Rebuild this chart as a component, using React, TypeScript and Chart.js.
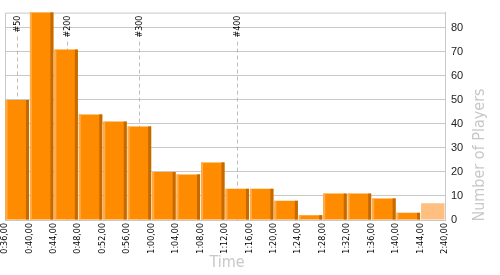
import React, { useEffect, useRef } from "react";
import { Chart, registerables } from "chart.js";

Chart.register(...registerables);

const binLabels = [
  "0:36,00", "0:40,00", "0:44,00", "0:48,00", "0:52,00", "0:56,00",
  "1:00,00", "1:04,00", "1:08,00", "1:12,00", "1:16,00", "1:20,00",
  "1:24,00", "1:28,00", "1:32,00", "1:36,00", "1:40,00", "1:44,00", "2:40,00",
];
const playerCounts = [50, 87, 71, 44, 41, 39, 20, 19, 24, 13, 13, 8, 2, 11, 11, 9, 3, 7];
const rankMarkers = ["#50", "#200", "#300", "#400"];
const rankMarkerBins = [0.5, 2.52, 5.5, 9.51];
const yTicks = [0, 10, 20, 30, 40, 50, 60, 70, 80];
const yMax = 86.4;

const MAIN = "#ff8c00";
const LIGHT_BAR = "#ffbf80";
const HIGHLIGHT = "#ffab4a";
const SHADOW = "#c46a00";

const decorPlugin = {
  id: "decor",
  beforeDatasetsDraw(chart: any) {
    const { ctx, chartArea, scales } = chart;
    const xs = scales.x;
    ctx.save();
    ctx.strokeStyle = "#c8c8c8";
    ctx.lineWidth = 1;
    ctx.beginPath();
    ctx.moveTo(chartArea.left + 0.5, chartArea.bottom);
    ctx.lineTo(chartArea.left + 0.5, chartArea.top + 0.5);
    ctx.lineTo(chartArea.right, chartArea.top + 0.5);
    ctx.stroke();
    ctx.font = "8px 'DejaVu Sans'";
    ctx.fillStyle = "#000";
    rankMarkers.forEach((lab, i) => {
      const px = Math.round(xs.getPixelForValue(rankMarkerBins[i])) + 0.5;
      const textTop = chartArea.top + 3;
      const w = ctx.measureText(lab).width;
      ctx.save();
      ctx.translate(px, textTop);
      ctx.rotate(-Math.PI / 2);
      ctx.textAlign = "right";
      ctx.textBaseline = "middle";
      ctx.fillText(lab, 0, 0);
      ctx.restore();
      ctx.save();
      ctx.strokeStyle = "#bdbdbd";
      ctx.setLineDash([4, 3]);
      ctx.beginPath();
      ctx.moveTo(px, textTop + w + 4);
      ctx.lineTo(px, chartArea.bottom);
      ctx.stroke();
      ctx.restore();
    });
    ctx.restore();
  },
  afterDatasetsDraw(chart: any) {
    const { ctx, chartArea } = chart;
    const meta = chart.getDatasetMeta(0);
    ctx.save();
    ctx.beginPath();
    ctx.rect(chartArea.left, chartArea.top, chartArea.right - chartArea.left, chartArea.bottom - chartArea.top);
    ctx.clip();
    meta.data.forEach((el: any, i: number) => {
      if (i === meta.data.length - 1) return;
      const p = el.getProps(["x", "y", "base", "width"], true);
      const left = p.x - p.width / 2;
      const right = p.x + p.width / 2;
      const top = Math.min(p.y, p.base);
      const h = Math.abs(p.base - p.y);
      ctx.fillStyle = HIGHLIGHT;
      ctx.fillRect(left, top, 2, h);
      ctx.fillStyle = SHADOW;
      ctx.fillRect(right - 3, top, 3, h);
    });
    ctx.restore();
  },
  afterDraw(chart: any) {
    const { ctx, chartArea } = chart;
    ctx.save();
    ctx.fillStyle = "#c8c8c8";
    ctx.font = "16px 'DejaVu Sans Condensed', 'DejaVu Sans'";
    ctx.textAlign = "center";
    ctx.textBaseline = "middle";
    ctx.fillText("Time", (chartArea.left + chartArea.right) / 2 + 2, 263);
    ctx.translate(480, 155);
    ctx.rotate(-Math.PI / 2);
    ctx.fillText("Number of Players", 0, 0);
    ctx.restore();
  },
};

export default function App() {
  const ref = useRef<HTMLCanvasElement | null>(null);
  useEffect(() => {
    document.body.style.margin = "0";
    const canvas = ref.current!;
    const data = playerCounts.map((v, i) => ({ x: i + 0.5, y: v }));
    const colors = playerCounts.map((_, i) => (i === playerCounts.length - 1 ? LIGHT_BAR : MAIN));
    const chart = new Chart(canvas, {
      type: "bar",
      data: {
        datasets: [
          {
            data,
            backgroundColor: colors,
            borderWidth: 0,
            barPercentage: 0.96,
            categoryPercentage: 1,
          } as any,
        ],
      },
      options: {
        animation: false,
        responsive: false,
        events: [],
        layout: { padding: { left: 5, top: 10, right: 0, bottom: 0 } },
        plugins: { legend: { display: false }, tooltip: { enabled: false } },
        scales: {
          x: {
            type: "linear",
            min: 0,
            max: binLabels.length - 1,
            offset: false,
            grid: { display: false, drawTicks: false },
            border: { display: false },
            afterFit: (s: any) => { s.height = 55; },
            afterBuildTicks: (s: any) => {
              s.ticks = binLabels.map((_, i) => ({ value: i }));
            },
            ticks: {
              autoSkip: false,
              maxRotation: 90,
              minRotation: 90,
              padding: 3,
              color: "#000",
              font: { family: "'DejaVu Sans'", size: 8 },
              callback: (v: any) => binLabels[v as number],
            },
          },
          y: {
            position: "right",
            min: 0,
            max: yMax,
            grid: { color: "#c8c8c8", drawTicks: false },
            border: { display: true, color: "#c8c8c8" },
            afterFit: (s: any) => { s.width = 55; },
            afterBuildTicks: (s: any) => {
              s.ticks = yTicks.map((v) => ({ value: v }));
            },
            ticks: {
              padding: 6,
              color: "#222",
              font: { family: "'Liberation Sans'", size: 11 },
            },
          },
        },
      },
      plugins: [decorPlugin],
    });
    return () => chart.destroy();
  }, []);
  return (
    <div style={{ position: "fixed", left: 0, top: 0, width: 500, height: 275, background: "#fff" }}>
      <canvas ref={ref} width={500} height={275} />
    </div>
  );
}
